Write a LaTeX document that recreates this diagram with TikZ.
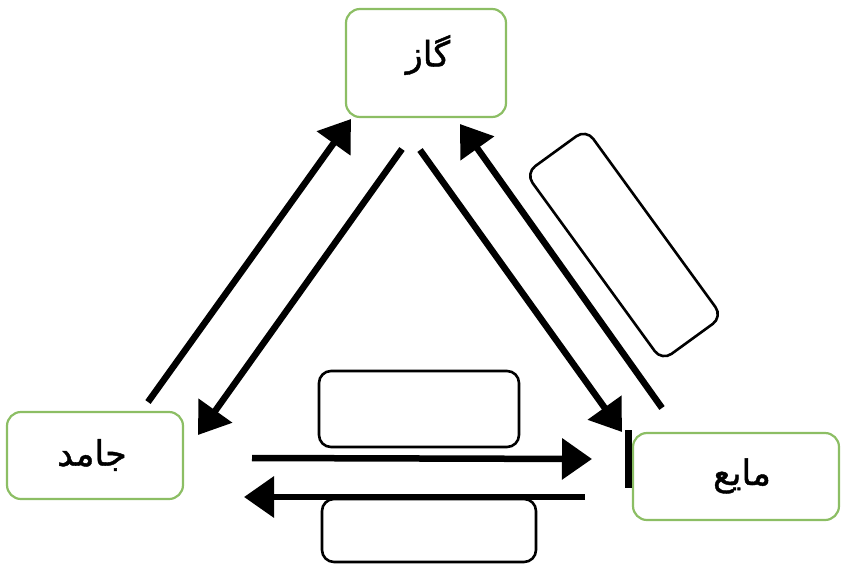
\documentclass[tikz,border=0pt]{standalone}
\usepackage{fontspec}
\newfontfamily\arabicfont[Script=Arabic,FakeBold=1.2]{DejaVu Sans}
\TeXXeTstate=1
\usetikzlibrary{arrows.meta}
\definecolor{stategreen}{RGB}{140,190,100}
\begin{document}
\begin{tikzpicture}[x=1pt,y=-1pt,
  state/.style={draw=stategreen, line width=2.2pt, rounded corners=14pt, fill=white, inner sep=0pt},
  blank/.style={draw=black, line width=2.6pt, rounded corners=12pt, inner sep=0pt},
  flow/.style={line width=6.5pt, -{Triangle[length=30pt,width=40pt]}},
  lbl/.style={font=\arabicfont\fontsize{35}{40}\selectfont, inner sep=0pt}]
\useasboundingbox (0,0) rectangle (841,563);
% state boxes
\node[state, minimum width=160pt, minimum height=108pt] (gas) at (426,63) {};
\node[state, minimum width=176pt, minimum height=87pt] (solid) at (95,455.5) {};
\node[state, minimum width=206pt, minimum height=87pt] (liquid) at (736,476.5) {};
\node[lbl] (gastext) at (428,55) {\beginR گاز\endR};
\node[lbl] (solidtext) at (92,455) {\beginR جامد\endR};
\node[lbl] (liquidtext) at (742,476) {\beginR مایع\endR};
% empty answer boxes
\node[blank, minimum width=232pt, minimum height=75pt, rotate=-54] (b1) at (624,245) {};
\node[blank, minimum width=200pt, minimum height=76pt] (b2) at (419,409) {};
\node[blank, minimum width=214pt, minimum height=63pt] (b3) at (429,530.5) {};
% arrow end points
\coordinate (s1) at (148,402); \coordinate (g1) at (351,119);
\coordinate (g2) at (402,149); \coordinate (s2) at (198,435);
\coordinate (g3) at (420,150); \coordinate (l3) at (622,432);
\coordinate (l4) at (662,408); \coordinate (g4) at (460,124);
\coordinate (s5) at (252,458); \coordinate (l5) at (592,459);
\coordinate (l6) at (585,497); \coordinate (s6) at (244,497);
\draw[flow] (s1) -- (g1);
\draw[flow] (g2) -- (s2);
\draw[flow] (g3) -- (l3);
\draw[flow] (l4) -- (g4);
\draw[flow] (s5) -- (l5);
\draw[flow] (l6) -- (s6);
% bar beside liquid box
\draw[line width=7pt] (628,430) -- (628,488);
\end{tikzpicture}
\end{document}
